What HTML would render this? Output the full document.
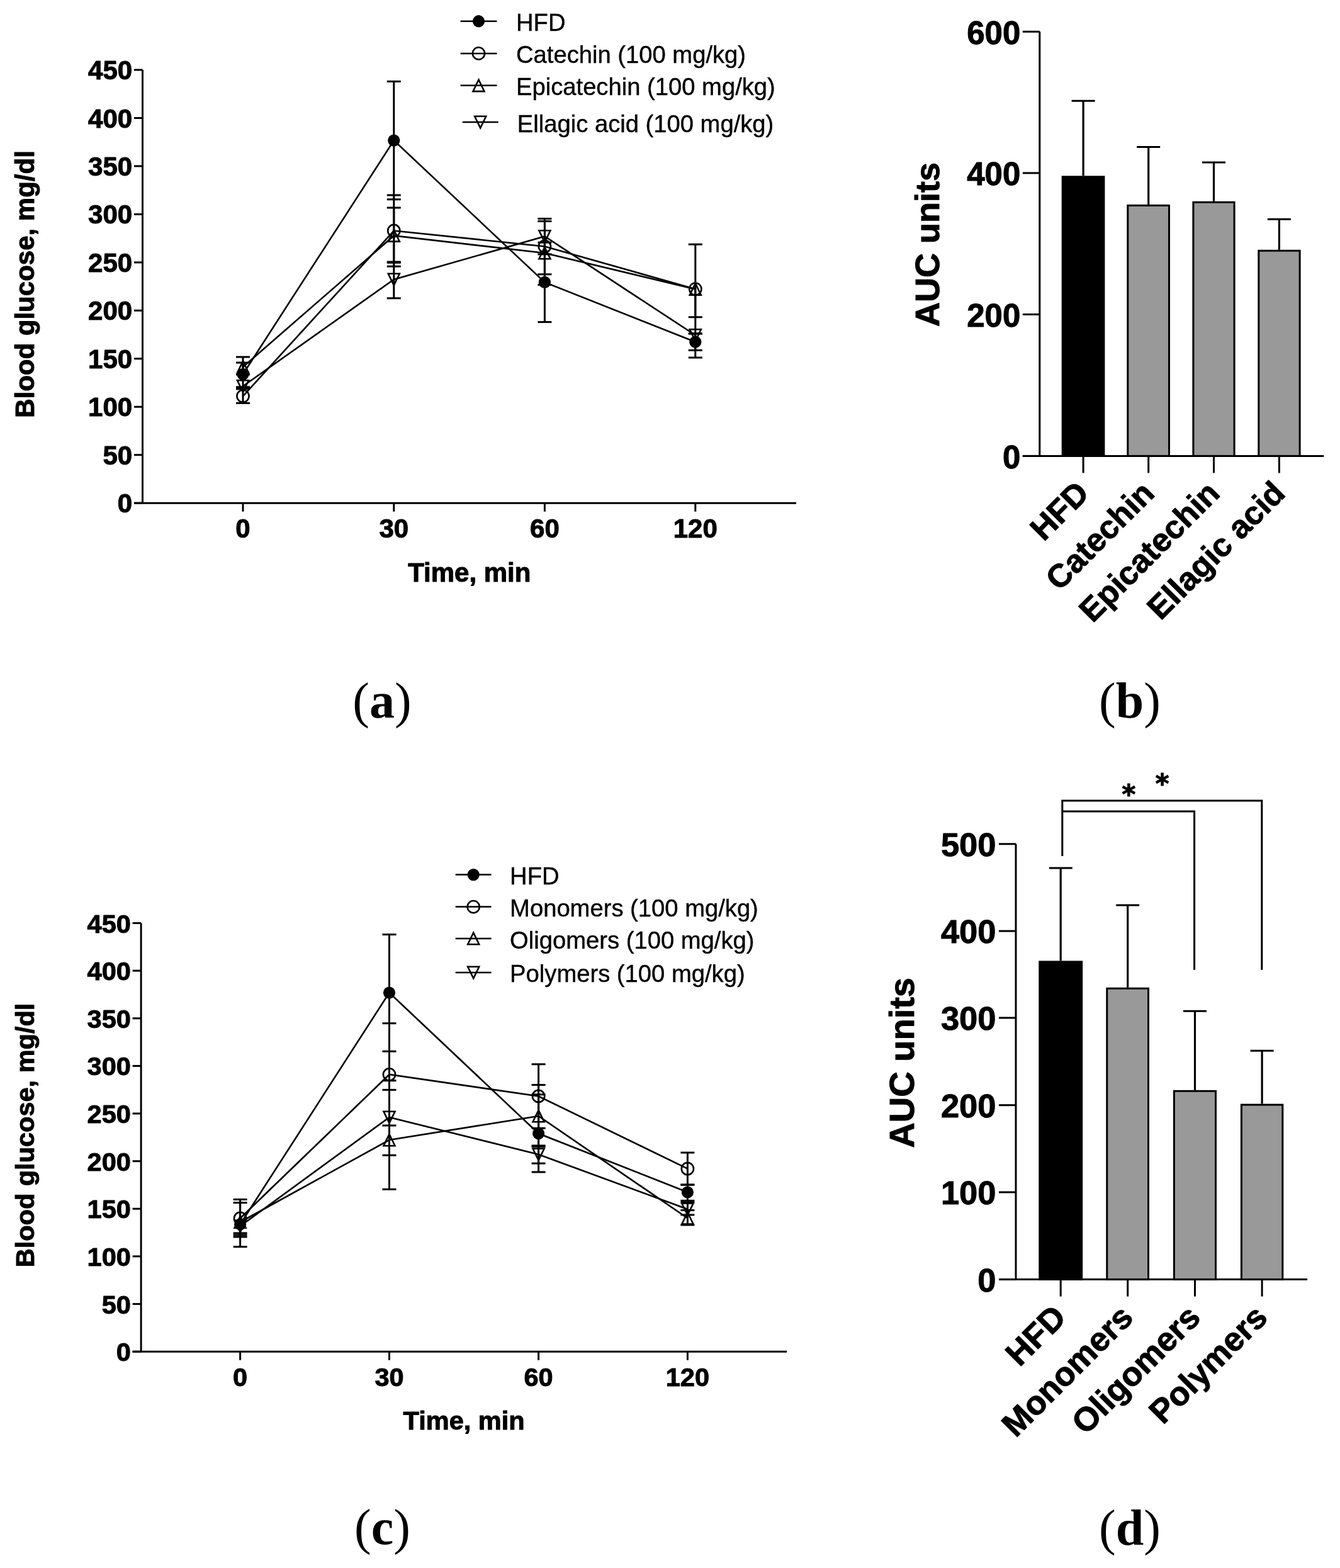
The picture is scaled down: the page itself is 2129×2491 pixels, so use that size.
<!DOCTYPE html>
<html><head><meta charset="utf-8"><title>Figure</title>
<style>html,body{margin:0;padding:0;background:#fff;}svg{display:block;}</style>
</head><body>
<svg width="2129" height="2491" viewBox="0 0 2129 2491">
<rect x="0" y="0" width="2129" height="2491" fill="#fff"/>
<g stroke="#000" fill="none">
<line x1="226.5" y1="111" x2="226.5" y2="799.2" stroke-width="3" stroke-linecap="butt"/>
<line x1="213" y1="799.2" x2="226.5" y2="799.2" stroke-width="3" stroke-linecap="butt"/>
<text x="210.2" y="814.2" font-size="42" font-weight="bold" text-anchor="end" font-family="'Liberation Sans', Arial, Helvetica, sans-serif" stroke="#000" stroke-width="1.0" stroke-linejoin="round" fill="#000">0</text>
<line x1="213" y1="722.7" x2="226.5" y2="722.7" stroke-width="3" stroke-linecap="butt"/>
<text x="210.2" y="737.7" font-size="42" font-weight="bold" text-anchor="end" font-family="'Liberation Sans', Arial, Helvetica, sans-serif" stroke="#000" stroke-width="1.0" stroke-linejoin="round" fill="#000">50</text>
<line x1="213" y1="646.3" x2="226.5" y2="646.3" stroke-width="3" stroke-linecap="butt"/>
<text x="210.2" y="661.3" font-size="42" font-weight="bold" text-anchor="end" font-family="'Liberation Sans', Arial, Helvetica, sans-serif" stroke="#000" stroke-width="1.0" stroke-linejoin="round" fill="#000">100</text>
<line x1="213" y1="569.8" x2="226.5" y2="569.8" stroke-width="3" stroke-linecap="butt"/>
<text x="210.2" y="584.8" font-size="42" font-weight="bold" text-anchor="end" font-family="'Liberation Sans', Arial, Helvetica, sans-serif" stroke="#000" stroke-width="1.0" stroke-linejoin="round" fill="#000">150</text>
<line x1="213" y1="493.3" x2="226.5" y2="493.3" stroke-width="3" stroke-linecap="butt"/>
<text x="210.2" y="508.3" font-size="42" font-weight="bold" text-anchor="end" font-family="'Liberation Sans', Arial, Helvetica, sans-serif" stroke="#000" stroke-width="1.0" stroke-linejoin="round" fill="#000">200</text>
<line x1="213" y1="416.9" x2="226.5" y2="416.9" stroke-width="3" stroke-linecap="butt"/>
<text x="210.2" y="431.9" font-size="42" font-weight="bold" text-anchor="end" font-family="'Liberation Sans', Arial, Helvetica, sans-serif" stroke="#000" stroke-width="1.0" stroke-linejoin="round" fill="#000">250</text>
<line x1="213" y1="340.4" x2="226.5" y2="340.4" stroke-width="3" stroke-linecap="butt"/>
<text x="210.2" y="355.4" font-size="42" font-weight="bold" text-anchor="end" font-family="'Liberation Sans', Arial, Helvetica, sans-serif" stroke="#000" stroke-width="1.0" stroke-linejoin="round" fill="#000">300</text>
<line x1="213" y1="263.9" x2="226.5" y2="263.9" stroke-width="3" stroke-linecap="butt"/>
<text x="210.2" y="278.9" font-size="42" font-weight="bold" text-anchor="end" font-family="'Liberation Sans', Arial, Helvetica, sans-serif" stroke="#000" stroke-width="1.0" stroke-linejoin="round" fill="#000">350</text>
<line x1="213" y1="187.5" x2="226.5" y2="187.5" stroke-width="3" stroke-linecap="butt"/>
<text x="210.2" y="202.5" font-size="42" font-weight="bold" text-anchor="end" font-family="'Liberation Sans', Arial, Helvetica, sans-serif" stroke="#000" stroke-width="1.0" stroke-linejoin="round" fill="#000">400</text>
<line x1="213" y1="111" x2="226.5" y2="111" stroke-width="3" stroke-linecap="butt"/>
<text x="210.2" y="126" font-size="42" font-weight="bold" text-anchor="end" font-family="'Liberation Sans', Arial, Helvetica, sans-serif" stroke="#000" stroke-width="1.0" stroke-linejoin="round" fill="#000">450</text>
<line x1="213" y1="799.2" x2="1265" y2="799.2" stroke-width="3" stroke-linecap="butt"/>
<line x1="386" y1="799.2" x2="386" y2="812.7" stroke-width="3" stroke-linecap="butt"/>
<text x="386" y="854.2" font-size="42" font-weight="bold" text-anchor="middle" font-family="'Liberation Sans', Arial, Helvetica, sans-serif" stroke="#000" stroke-width="1.0" stroke-linejoin="round" fill="#000">0</text>
<line x1="625.8" y1="799.2" x2="625.8" y2="812.7" stroke-width="3" stroke-linecap="butt"/>
<text x="625.8" y="854.2" font-size="42" font-weight="bold" text-anchor="middle" font-family="'Liberation Sans', Arial, Helvetica, sans-serif" stroke="#000" stroke-width="1.0" stroke-linejoin="round" fill="#000">30</text>
<line x1="865.4" y1="799.2" x2="865.4" y2="812.7" stroke-width="3" stroke-linecap="butt"/>
<text x="865.4" y="854.2" font-size="42" font-weight="bold" text-anchor="middle" font-family="'Liberation Sans', Arial, Helvetica, sans-serif" stroke="#000" stroke-width="1.0" stroke-linejoin="round" fill="#000">60</text>
<line x1="1104.8" y1="799.2" x2="1104.8" y2="812.7" stroke-width="3" stroke-linecap="butt"/>
<text x="1104.8" y="854.2" font-size="42" font-weight="bold" text-anchor="middle" font-family="'Liberation Sans', Arial, Helvetica, sans-serif" stroke="#000" stroke-width="1.0" stroke-linejoin="round" fill="#000">120</text>
<text x="745.8" y="923.5" font-size="42" font-weight="bold" text-anchor="middle" font-family="'Liberation Sans', Arial, Helvetica, sans-serif" stroke="#000" stroke-width="1.0" stroke-linejoin="round" fill="#000">Time, min</text>
<text x="54" y="451.5" font-size="42" font-weight="bold" text-anchor="middle" font-family="'Liberation Sans', Arial, Helvetica, sans-serif" transform="rotate(-90 54 451.5)" stroke="#000" stroke-width="1.0" stroke-linejoin="round" fill="#000">Blood glucose, mg/dl</text>
<line x1="386" y1="576.1" x2="386" y2="614.8" stroke-width="3" stroke-linecap="butt"/>
<line x1="375" y1="576.1" x2="397" y2="576.1" stroke-width="3" stroke-linecap="butt"/>
<line x1="375" y1="614.8" x2="397" y2="614.8" stroke-width="3" stroke-linecap="butt"/>
<line x1="625.8" y1="129.4" x2="625.8" y2="316.8" stroke-width="3" stroke-linecap="butt"/>
<line x1="614.8" y1="129.4" x2="636.8" y2="129.4" stroke-width="3" stroke-linecap="butt"/>
<line x1="614.8" y1="316.8" x2="636.8" y2="316.8" stroke-width="3" stroke-linecap="butt"/>
<line x1="865.4" y1="385.2" x2="865.4" y2="511.6" stroke-width="3" stroke-linecap="butt"/>
<line x1="854.4" y1="385.2" x2="876.4" y2="385.2" stroke-width="3" stroke-linecap="butt"/>
<line x1="854.4" y1="511.6" x2="876.4" y2="511.6" stroke-width="3" stroke-linecap="butt"/>
<line x1="1104.8" y1="530" x2="1104.8" y2="556.5" stroke-width="3" stroke-linecap="butt"/>
<line x1="1093.8" y1="530" x2="1115.8" y2="530" stroke-width="3" stroke-linecap="butt"/>
<line x1="1093.8" y1="556.5" x2="1115.8" y2="556.5" stroke-width="3" stroke-linecap="butt"/>
<line x1="386" y1="618" x2="386" y2="640.4" stroke-width="3" stroke-linecap="butt"/>
<line x1="375" y1="618" x2="397" y2="618" stroke-width="3" stroke-linecap="butt"/>
<line x1="375" y1="640.4" x2="397" y2="640.4" stroke-width="3" stroke-linecap="butt"/>
<line x1="625.8" y1="310" x2="625.8" y2="423.2" stroke-width="3" stroke-linecap="butt"/>
<line x1="614.8" y1="310" x2="636.8" y2="310" stroke-width="3" stroke-linecap="butt"/>
<line x1="614.8" y1="423.2" x2="636.8" y2="423.2" stroke-width="3" stroke-linecap="butt"/>
<line x1="865.4" y1="347.4" x2="865.4" y2="435.8" stroke-width="3" stroke-linecap="butt"/>
<line x1="854.4" y1="347.4" x2="876.4" y2="347.4" stroke-width="3" stroke-linecap="butt"/>
<line x1="854.4" y1="435.8" x2="876.4" y2="435.8" stroke-width="3" stroke-linecap="butt"/>
<line x1="1104.8" y1="388.2" x2="1104.8" y2="530" stroke-width="3" stroke-linecap="butt"/>
<line x1="1093.8" y1="388.2" x2="1115.8" y2="388.2" stroke-width="3" stroke-linecap="butt"/>
<line x1="1093.8" y1="530" x2="1115.8" y2="530" stroke-width="3" stroke-linecap="butt"/>
<line x1="386" y1="567.1" x2="386" y2="595" stroke-width="3" stroke-linecap="butt"/>
<line x1="375" y1="567.1" x2="397" y2="567.1" stroke-width="3" stroke-linecap="butt"/>
<line x1="375" y1="595" x2="397" y2="595" stroke-width="3" stroke-linecap="butt"/>
<line x1="625.8" y1="330" x2="625.8" y2="417.3" stroke-width="3" stroke-linecap="butt"/>
<line x1="614.8" y1="330" x2="636.8" y2="330" stroke-width="3" stroke-linecap="butt"/>
<line x1="614.8" y1="417.3" x2="636.8" y2="417.3" stroke-width="3" stroke-linecap="butt"/>
<line x1="865.4" y1="351.5" x2="865.4" y2="452.5" stroke-width="3" stroke-linecap="butt"/>
<line x1="854.4" y1="351.5" x2="876.4" y2="351.5" stroke-width="3" stroke-linecap="butt"/>
<line x1="854.4" y1="452.5" x2="876.4" y2="452.5" stroke-width="3" stroke-linecap="butt"/>
<line x1="1104.8" y1="459.5" x2="1104.8" y2="503.8" stroke-width="3" stroke-linecap="butt"/>
<line x1="1093.8" y1="503.8" x2="1115.8" y2="503.8" stroke-width="3" stroke-linecap="butt"/>
<line x1="386" y1="613.5" x2="386" y2="616" stroke-width="3" stroke-linecap="butt"/>
<line x1="375" y1="616" x2="397" y2="616" stroke-width="3" stroke-linecap="butt"/>
<line x1="625.8" y1="416" x2="625.8" y2="473.8" stroke-width="3" stroke-linecap="butt"/>
<line x1="614.8" y1="416" x2="636.8" y2="416" stroke-width="3" stroke-linecap="butt"/>
<line x1="614.8" y1="473.8" x2="636.8" y2="473.8" stroke-width="3" stroke-linecap="butt"/>
<line x1="865.4" y1="375.5" x2="865.4" y2="403.9" stroke-width="3" stroke-linecap="butt"/>
<line x1="854.4" y1="403.9" x2="876.4" y2="403.9" stroke-width="3" stroke-linecap="butt"/>
<line x1="1104.8" y1="532.5" x2="1104.8" y2="568.1" stroke-width="3" stroke-linecap="butt"/>
<line x1="1093.8" y1="568.1" x2="1115.8" y2="568.1" stroke-width="3" stroke-linecap="butt"/>
<polyline points="386,594.5 625.8,223.1 865.4,448.4 1104.8,543.3" fill="none" stroke-width="2.6" stroke-linejoin="miter"/>
<polyline points="386,629.3 625.8,366.5 865.4,391.5 1104.8,459.2" fill="none" stroke-width="2.6" stroke-linejoin="miter"/>
<polyline points="386,583 625.8,374.4 865.4,402 1104.8,459.5" fill="none" stroke-width="2.6" stroke-linejoin="miter"/>
<polyline points="386,613.5 625.8,444 865.4,375.5 1104.8,532.5" fill="none" stroke-width="2.6" stroke-linejoin="miter"/>
<circle cx="386" cy="594.5" r="9.6" fill="#000" stroke="none"/>
<circle cx="625.8" cy="223.1" r="9.6" fill="#000" stroke="none"/>
<circle cx="865.4" cy="448.4" r="9.6" fill="#000" stroke="none"/>
<circle cx="1104.8" cy="543.3" r="9.6" fill="#000" stroke="none"/>
<circle cx="386" cy="629.3" r="9.6" fill="none" stroke-width="2.6"/>
<circle cx="625.8" cy="366.5" r="9.6" fill="none" stroke-width="2.6"/>
<circle cx="865.4" cy="391.5" r="9.6" fill="none" stroke-width="2.6"/>
<circle cx="1104.8" cy="459.2" r="9.6" fill="none" stroke-width="2.6"/>
<polygon points="386,573.8 395,592.2 377,592.2" fill="none" stroke-width="2.6" stroke-linejoin="miter"/>
<polygon points="625.8,365.1 634.8,383.6 616.8,383.6" fill="none" stroke-width="2.6" stroke-linejoin="miter"/>
<polygon points="865.4,392.8 874.4,411.2 856.4,411.2" fill="none" stroke-width="2.6" stroke-linejoin="miter"/>
<polygon points="1104.8,450.2 1113.8,468.8 1095.8,468.8" fill="none" stroke-width="2.6" stroke-linejoin="miter"/>
<polygon points="377,604.2 395,604.2 386,622.8" fill="none" stroke-width="2.6" stroke-linejoin="miter"/>
<polygon points="616.8,434.8 634.8,434.8 625.8,453.2" fill="none" stroke-width="2.6" stroke-linejoin="miter"/>
<polygon points="856.4,366.2 874.4,366.2 865.4,384.8" fill="none" stroke-width="2.6" stroke-linejoin="miter"/>
<polygon points="1095.8,523.2 1113.8,523.2 1104.8,541.8" fill="none" stroke-width="2.6" stroke-linejoin="miter"/>
<line x1="731.6" y1="33.7" x2="789.5" y2="33.7" stroke-width="2.5" stroke-linecap="butt"/>
<circle cx="760.5" cy="33.7" r="9.6" fill="#000" stroke="none"/>
<text x="820" y="49.2" font-size="38.2" font-weight="normal" text-anchor="start" font-family="'Liberation Sans', Arial, Helvetica, sans-serif" stroke="#000" stroke-width="0.4" stroke-linejoin="round" fill="#000">HFD</text>
<line x1="731.6" y1="84.9" x2="789.5" y2="84.9" stroke-width="2.5" stroke-linecap="butt"/>
<circle cx="760.5" cy="84.9" r="9.6" fill="none" stroke-width="2.6"/>
<text x="820" y="100.4" font-size="38.2" font-weight="normal" text-anchor="start" font-family="'Liberation Sans', Arial, Helvetica, sans-serif" stroke="#000" stroke-width="0.4" stroke-linejoin="round" fill="#000">Catechin (100 mg/kg)</text>
<line x1="731.6" y1="135.8" x2="789.5" y2="135.8" stroke-width="2.5" stroke-linecap="butt"/>
<polygon points="760.5,126.6 769.5,145.1 751.5,145.1" fill="none" stroke-width="2.6" stroke-linejoin="miter"/>
<text x="820" y="151.3" font-size="38.2" font-weight="normal" text-anchor="start" font-family="'Liberation Sans', Arial, Helvetica, sans-serif" stroke="#000" stroke-width="0.4" stroke-linejoin="round" fill="#000">Epicatechin (100 mg/kg)</text>
<line x1="734.8" y1="194" x2="791.7" y2="194" stroke-width="2.5" stroke-linecap="butt"/>
<polygon points="754.2,184.8 772.2,184.8 763.2,203.2" fill="none" stroke-width="2.6" stroke-linejoin="miter"/>
<text x="821.8" y="209.5" font-size="38.2" font-weight="normal" text-anchor="start" font-family="'Liberation Sans', Arial, Helvetica, sans-serif" stroke="#000" stroke-width="0.4" stroke-linejoin="round" fill="#000">Ellagic acid (100 mg/kg)</text>
<line x1="224.1" y1="1466.5" x2="224.1" y2="2147.2" stroke-width="3" stroke-linecap="butt"/>
<line x1="210.6" y1="2147.2" x2="224.1" y2="2147.2" stroke-width="3" stroke-linecap="butt"/>
<text x="207.8" y="2162.2" font-size="41.5" font-weight="bold" text-anchor="end" font-family="'Liberation Sans', Arial, Helvetica, sans-serif" stroke="#000" stroke-width="1.0" stroke-linejoin="round" fill="#000">0</text>
<line x1="210.6" y1="2071.6" x2="224.1" y2="2071.6" stroke-width="3" stroke-linecap="butt"/>
<text x="207.8" y="2086.6" font-size="41.5" font-weight="bold" text-anchor="end" font-family="'Liberation Sans', Arial, Helvetica, sans-serif" stroke="#000" stroke-width="1.0" stroke-linejoin="round" fill="#000">50</text>
<line x1="210.6" y1="1995.9" x2="224.1" y2="1995.9" stroke-width="3" stroke-linecap="butt"/>
<text x="207.8" y="2010.9" font-size="41.5" font-weight="bold" text-anchor="end" font-family="'Liberation Sans', Arial, Helvetica, sans-serif" stroke="#000" stroke-width="1.0" stroke-linejoin="round" fill="#000">100</text>
<line x1="210.6" y1="1920.3" x2="224.1" y2="1920.3" stroke-width="3" stroke-linecap="butt"/>
<text x="207.8" y="1935.3" font-size="41.5" font-weight="bold" text-anchor="end" font-family="'Liberation Sans', Arial, Helvetica, sans-serif" stroke="#000" stroke-width="1.0" stroke-linejoin="round" fill="#000">150</text>
<line x1="210.6" y1="1844.7" x2="224.1" y2="1844.7" stroke-width="3" stroke-linecap="butt"/>
<text x="207.8" y="1859.7" font-size="41.5" font-weight="bold" text-anchor="end" font-family="'Liberation Sans', Arial, Helvetica, sans-serif" stroke="#000" stroke-width="1.0" stroke-linejoin="round" fill="#000">200</text>
<line x1="210.6" y1="1769" x2="224.1" y2="1769" stroke-width="3" stroke-linecap="butt"/>
<text x="207.8" y="1784" font-size="41.5" font-weight="bold" text-anchor="end" font-family="'Liberation Sans', Arial, Helvetica, sans-serif" stroke="#000" stroke-width="1.0" stroke-linejoin="round" fill="#000">250</text>
<line x1="210.6" y1="1693.4" x2="224.1" y2="1693.4" stroke-width="3" stroke-linecap="butt"/>
<text x="207.8" y="1708.4" font-size="41.5" font-weight="bold" text-anchor="end" font-family="'Liberation Sans', Arial, Helvetica, sans-serif" stroke="#000" stroke-width="1.0" stroke-linejoin="round" fill="#000">300</text>
<line x1="210.6" y1="1617.8" x2="224.1" y2="1617.8" stroke-width="3" stroke-linecap="butt"/>
<text x="207.8" y="1632.8" font-size="41.5" font-weight="bold" text-anchor="end" font-family="'Liberation Sans', Arial, Helvetica, sans-serif" stroke="#000" stroke-width="1.0" stroke-linejoin="round" fill="#000">350</text>
<line x1="210.6" y1="1542.1" x2="224.1" y2="1542.1" stroke-width="3" stroke-linecap="butt"/>
<text x="207.8" y="1557.1" font-size="41.5" font-weight="bold" text-anchor="end" font-family="'Liberation Sans', Arial, Helvetica, sans-serif" stroke="#000" stroke-width="1.0" stroke-linejoin="round" fill="#000">400</text>
<line x1="210.6" y1="1466.5" x2="224.1" y2="1466.5" stroke-width="3" stroke-linecap="butt"/>
<text x="207.8" y="1481.5" font-size="41.5" font-weight="bold" text-anchor="end" font-family="'Liberation Sans', Arial, Helvetica, sans-serif" stroke="#000" stroke-width="1.0" stroke-linejoin="round" fill="#000">450</text>
<line x1="210.6" y1="2147.2" x2="1250.2" y2="2147.2" stroke-width="3" stroke-linecap="butt"/>
<line x1="381.6" y1="2147.2" x2="381.6" y2="2160.7" stroke-width="3" stroke-linecap="butt"/>
<text x="381.6" y="2202.2" font-size="41.5" font-weight="bold" text-anchor="middle" font-family="'Liberation Sans', Arial, Helvetica, sans-serif" stroke="#000" stroke-width="1.0" stroke-linejoin="round" fill="#000">0</text>
<line x1="618.5" y1="2147.2" x2="618.5" y2="2160.7" stroke-width="3" stroke-linecap="butt"/>
<text x="618.5" y="2202.2" font-size="41.5" font-weight="bold" text-anchor="middle" font-family="'Liberation Sans', Arial, Helvetica, sans-serif" stroke="#000" stroke-width="1.0" stroke-linejoin="round" fill="#000">30</text>
<line x1="855.6" y1="2147.2" x2="855.6" y2="2160.7" stroke-width="3" stroke-linecap="butt"/>
<text x="855.6" y="2202.2" font-size="41.5" font-weight="bold" text-anchor="middle" font-family="'Liberation Sans', Arial, Helvetica, sans-serif" stroke="#000" stroke-width="1.0" stroke-linejoin="round" fill="#000">60</text>
<line x1="1092.4" y1="2147.2" x2="1092.4" y2="2160.7" stroke-width="3" stroke-linecap="butt"/>
<text x="1092.4" y="2202.2" font-size="41.5" font-weight="bold" text-anchor="middle" font-family="'Liberation Sans', Arial, Helvetica, sans-serif" stroke="#000" stroke-width="1.0" stroke-linejoin="round" fill="#000">120</text>
<text x="737.1" y="2271.2" font-size="41.5" font-weight="bold" text-anchor="middle" font-family="'Liberation Sans', Arial, Helvetica, sans-serif" stroke="#000" stroke-width="1.0" stroke-linejoin="round" fill="#000">Time, min</text>
<text x="54" y="1803.5" font-size="41.5" font-weight="bold" text-anchor="middle" font-family="'Liberation Sans', Arial, Helvetica, sans-serif" transform="rotate(-90 54 1803.5)" stroke="#000" stroke-width="1.0" stroke-linejoin="round" fill="#000">Blood glucose, mg/dl</text>
<line x1="381.6" y1="1910.7" x2="381.6" y2="1959" stroke-width="3" stroke-linecap="butt"/>
<line x1="370.6" y1="1910.7" x2="392.6" y2="1910.7" stroke-width="3" stroke-linecap="butt"/>
<line x1="370.6" y1="1959" x2="392.6" y2="1959" stroke-width="3" stroke-linecap="butt"/>
<line x1="618.5" y1="1484.6" x2="618.5" y2="1670.2" stroke-width="3" stroke-linecap="butt"/>
<line x1="607.5" y1="1484.6" x2="629.5" y2="1484.6" stroke-width="3" stroke-linecap="butt"/>
<line x1="607.5" y1="1670.2" x2="629.5" y2="1670.2" stroke-width="3" stroke-linecap="butt"/>
<line x1="855.6" y1="1738.8" x2="855.6" y2="1862" stroke-width="3" stroke-linecap="butt"/>
<line x1="844.6" y1="1738.8" x2="866.6" y2="1738.8" stroke-width="3" stroke-linecap="butt"/>
<line x1="844.6" y1="1862" x2="866.6" y2="1862" stroke-width="3" stroke-linecap="butt"/>
<line x1="1092.4" y1="1882" x2="1092.4" y2="1907.4" stroke-width="3" stroke-linecap="butt"/>
<line x1="1081.4" y1="1882" x2="1103.4" y2="1882" stroke-width="3" stroke-linecap="butt"/>
<line x1="1081.4" y1="1907.4" x2="1103.4" y2="1907.4" stroke-width="3" stroke-linecap="butt"/>
<line x1="381.6" y1="1905.5" x2="381.6" y2="1965" stroke-width="3" stroke-linecap="butt"/>
<line x1="370.6" y1="1905.5" x2="392.6" y2="1905.5" stroke-width="3" stroke-linecap="butt"/>
<line x1="370.6" y1="1965" x2="392.6" y2="1965" stroke-width="3" stroke-linecap="butt"/>
<line x1="618.5" y1="1625.7" x2="618.5" y2="1788" stroke-width="3" stroke-linecap="butt"/>
<line x1="607.5" y1="1625.7" x2="629.5" y2="1625.7" stroke-width="3" stroke-linecap="butt"/>
<line x1="607.5" y1="1788" x2="629.5" y2="1788" stroke-width="3" stroke-linecap="butt"/>
<line x1="855.6" y1="1690.7" x2="855.6" y2="1792.3" stroke-width="3" stroke-linecap="butt"/>
<line x1="844.6" y1="1690.7" x2="866.6" y2="1690.7" stroke-width="3" stroke-linecap="butt"/>
<line x1="844.6" y1="1792.3" x2="866.6" y2="1792.3" stroke-width="3" stroke-linecap="butt"/>
<line x1="1092.4" y1="1831.1" x2="1092.4" y2="1882.3" stroke-width="3" stroke-linecap="butt"/>
<line x1="1081.4" y1="1831.1" x2="1103.4" y2="1831.1" stroke-width="3" stroke-linecap="butt"/>
<line x1="1081.4" y1="1882.3" x2="1103.4" y2="1882.3" stroke-width="3" stroke-linecap="butt"/>
<line x1="381.6" y1="1941.5" x2="381.6" y2="1980.7" stroke-width="3" stroke-linecap="butt"/>
<line x1="370.6" y1="1980.7" x2="392.6" y2="1980.7" stroke-width="3" stroke-linecap="butt"/>
<line x1="618.5" y1="1731.4" x2="618.5" y2="1889.4" stroke-width="3" stroke-linecap="butt"/>
<line x1="607.5" y1="1731.4" x2="629.5" y2="1731.4" stroke-width="3" stroke-linecap="butt"/>
<line x1="607.5" y1="1889.4" x2="629.5" y2="1889.4" stroke-width="3" stroke-linecap="butt"/>
<line x1="855.6" y1="1723.5" x2="855.6" y2="1821.7" stroke-width="3" stroke-linecap="butt"/>
<line x1="844.6" y1="1723.5" x2="866.6" y2="1723.5" stroke-width="3" stroke-linecap="butt"/>
<line x1="844.6" y1="1821.7" x2="866.6" y2="1821.7" stroke-width="3" stroke-linecap="butt"/>
<line x1="1092.4" y1="1922.6" x2="1092.4" y2="1946" stroke-width="3" stroke-linecap="butt"/>
<line x1="1081.4" y1="1922.6" x2="1103.4" y2="1922.6" stroke-width="3" stroke-linecap="butt"/>
<line x1="1081.4" y1="1946" x2="1103.4" y2="1946" stroke-width="3" stroke-linecap="butt"/>
<line x1="381.6" y1="1948" x2="381.6" y2="1962" stroke-width="3" stroke-linecap="butt"/>
<line x1="370.6" y1="1962" x2="392.6" y2="1962" stroke-width="3" stroke-linecap="butt"/>
<line x1="618.5" y1="1716.7" x2="618.5" y2="1835.3" stroke-width="3" stroke-linecap="butt"/>
<line x1="607.5" y1="1716.7" x2="629.5" y2="1716.7" stroke-width="3" stroke-linecap="butt"/>
<line x1="607.5" y1="1835.3" x2="629.5" y2="1835.3" stroke-width="3" stroke-linecap="butt"/>
<line x1="855.6" y1="1820" x2="855.6" y2="1848.2" stroke-width="3" stroke-linecap="butt"/>
<line x1="844.6" y1="1820" x2="866.6" y2="1820" stroke-width="3" stroke-linecap="butt"/>
<line x1="844.6" y1="1848.2" x2="866.6" y2="1848.2" stroke-width="3" stroke-linecap="butt"/>
<line x1="1092.4" y1="1910" x2="1092.4" y2="1930" stroke-width="3" stroke-linecap="butt"/>
<line x1="1081.4" y1="1910" x2="1103.4" y2="1910" stroke-width="3" stroke-linecap="butt"/>
<line x1="1081.4" y1="1930" x2="1103.4" y2="1930" stroke-width="3" stroke-linecap="butt"/>
<polyline points="381.6,1945 618.5,1577.1 855.6,1800.8 1092.4,1894" fill="none" stroke-width="2.6" stroke-linejoin="miter"/>
<polyline points="381.6,1935.5 618.5,1707 855.6,1741.5 1092.4,1856.7" fill="none" stroke-width="2.6" stroke-linejoin="miter"/>
<polyline points="381.6,1941.5 618.5,1811 855.6,1773 1092.4,1935.3" fill="none" stroke-width="2.6" stroke-linejoin="miter"/>
<polyline points="381.6,1948 618.5,1775 855.6,1834 1092.4,1921" fill="none" stroke-width="2.6" stroke-linejoin="miter"/>
<circle cx="381.6" cy="1945" r="9.6" fill="#000" stroke="none"/>
<circle cx="618.5" cy="1577.1" r="9.6" fill="#000" stroke="none"/>
<circle cx="855.6" cy="1800.8" r="9.6" fill="#000" stroke="none"/>
<circle cx="1092.4" cy="1894" r="9.6" fill="#000" stroke="none"/>
<circle cx="381.6" cy="1935.5" r="9.6" fill="none" stroke-width="2.6"/>
<circle cx="618.5" cy="1707" r="9.6" fill="none" stroke-width="2.6"/>
<circle cx="855.6" cy="1741.5" r="9.6" fill="none" stroke-width="2.6"/>
<circle cx="1092.4" cy="1856.7" r="9.6" fill="none" stroke-width="2.6"/>
<polygon points="381.6,1932.2 390.6,1950.8 372.6,1950.8" fill="none" stroke-width="2.6" stroke-linejoin="miter"/>
<polygon points="618.5,1801.8 627.5,1820.2 609.5,1820.2" fill="none" stroke-width="2.6" stroke-linejoin="miter"/>
<polygon points="855.6,1763.8 864.6,1782.2 846.6,1782.2" fill="none" stroke-width="2.6" stroke-linejoin="miter"/>
<polygon points="1092.4,1926 1101.4,1944.5 1083.4,1944.5" fill="none" stroke-width="2.6" stroke-linejoin="miter"/>
<polygon points="372.6,1938.8 390.6,1938.8 381.6,1957.2" fill="none" stroke-width="2.6" stroke-linejoin="miter"/>
<polygon points="609.5,1765.8 627.5,1765.8 618.5,1784.2" fill="none" stroke-width="2.6" stroke-linejoin="miter"/>
<polygon points="846.6,1824.8 864.6,1824.8 855.6,1843.2" fill="none" stroke-width="2.6" stroke-linejoin="miter"/>
<polygon points="1083.4,1911.8 1101.4,1911.8 1092.4,1930.2" fill="none" stroke-width="2.6" stroke-linejoin="miter"/>
<line x1="723.7" y1="1389.6" x2="780.6" y2="1389.6" stroke-width="2.5" stroke-linecap="butt"/>
<circle cx="752.2" cy="1389.6" r="9.6" fill="#000" stroke="none"/>
<text x="810.1" y="1405.1" font-size="38.2" font-weight="normal" text-anchor="start" font-family="'Liberation Sans', Arial, Helvetica, sans-serif" stroke="#000" stroke-width="0.4" stroke-linejoin="round" fill="#000">HFD</text>
<line x1="723.7" y1="1440.6" x2="780.6" y2="1440.6" stroke-width="2.5" stroke-linecap="butt"/>
<circle cx="752.2" cy="1440.6" r="9.6" fill="none" stroke-width="2.6"/>
<text x="810.1" y="1456.1" font-size="38.2" font-weight="normal" text-anchor="start" font-family="'Liberation Sans', Arial, Helvetica, sans-serif" stroke="#000" stroke-width="0.4" stroke-linejoin="round" fill="#000">Monomers (100 mg/kg)</text>
<line x1="723.7" y1="1491.1" x2="780.6" y2="1491.1" stroke-width="2.5" stroke-linecap="butt"/>
<polygon points="752.2,1481.8 761.2,1500.3 743.2,1500.3" fill="none" stroke-width="2.6" stroke-linejoin="miter"/>
<text x="810.1" y="1506.6" font-size="38.2" font-weight="normal" text-anchor="start" font-family="'Liberation Sans', Arial, Helvetica, sans-serif" stroke="#000" stroke-width="0.4" stroke-linejoin="round" fill="#000">Oligomers (100 mg/kg)</text>
<line x1="723.7" y1="1544.9" x2="780.6" y2="1544.9" stroke-width="2.5" stroke-linecap="butt"/>
<polygon points="743.2,1535.7 761.2,1535.7 752.2,1554.2" fill="none" stroke-width="2.6" stroke-linejoin="miter"/>
<text x="810.1" y="1560.4" font-size="38.2" font-weight="normal" text-anchor="start" font-family="'Liberation Sans', Arial, Helvetica, sans-serif" stroke="#000" stroke-width="0.4" stroke-linejoin="round" fill="#000">Polymers (100 mg/kg)</text>
<line x1="1651.8" y1="50.3" x2="1651.8" y2="724.4" stroke-width="3" stroke-linecap="butt"/>
<line x1="1624.8" y1="724.4" x2="1651.8" y2="724.4" stroke-width="3" stroke-linecap="butt"/>
<text x="1621.3" y="743.9" font-size="51" font-weight="bold" text-anchor="end" font-family="'Liberation Sans', Arial, Helvetica, sans-serif" stroke="#000" stroke-width="1.0" stroke-linejoin="round" fill="#000">0</text>
<line x1="1624.8" y1="499.5" x2="1651.8" y2="499.5" stroke-width="3" stroke-linecap="butt"/>
<text x="1621.3" y="519" font-size="51" font-weight="bold" text-anchor="end" font-family="'Liberation Sans', Arial, Helvetica, sans-serif" stroke="#000" stroke-width="1.0" stroke-linejoin="round" fill="#000">200</text>
<line x1="1624.8" y1="274.9" x2="1651.8" y2="274.9" stroke-width="3" stroke-linecap="butt"/>
<text x="1621.3" y="294.4" font-size="51" font-weight="bold" text-anchor="end" font-family="'Liberation Sans', Arial, Helvetica, sans-serif" stroke="#000" stroke-width="1.0" stroke-linejoin="round" fill="#000">400</text>
<line x1="1624.8" y1="50.3" x2="1651.8" y2="50.3" stroke-width="3" stroke-linecap="butt"/>
<text x="1621.3" y="69.8" font-size="51" font-weight="bold" text-anchor="end" font-family="'Liberation Sans', Arial, Helvetica, sans-serif" stroke="#000" stroke-width="1.0" stroke-linejoin="round" fill="#000">600</text>
<line x1="1721.1" y1="160.3" x2="1721.1" y2="279.3" stroke-width="3.2" stroke-linecap="butt"/>
<line x1="1702.6" y1="160.3" x2="1739.6" y2="160.3" stroke-width="3" stroke-linecap="butt"/>
<rect x="1688.2" y="280.8" width="65.7" height="443.6" fill="#000" stroke-width="3"/>
<line x1="1824.7" y1="233.4" x2="1824.7" y2="324.9" stroke-width="3.2" stroke-linecap="butt"/>
<line x1="1806.2" y1="233.4" x2="1843.2" y2="233.4" stroke-width="3" stroke-linecap="butt"/>
<rect x="1791.8" y="326.4" width="65.7" height="398" fill="#999" stroke-width="3"/>
<line x1="1928.5" y1="258" x2="1928.5" y2="319.8" stroke-width="3.2" stroke-linecap="butt"/>
<line x1="1910" y1="258" x2="1947" y2="258" stroke-width="3" stroke-linecap="butt"/>
<rect x="1895.9" y="321.3" width="65.2" height="403.1" fill="#999" stroke-width="3"/>
<line x1="2032.4" y1="348.2" x2="2032.4" y2="396.8" stroke-width="3.2" stroke-linecap="butt"/>
<line x1="2013.9" y1="348.2" x2="2050.9" y2="348.2" stroke-width="3" stroke-linecap="butt"/>
<rect x="1999.8" y="398.3" width="65.3" height="326.1" fill="#999" stroke-width="3"/>
<line x1="1624.8" y1="724.4" x2="2103.3" y2="724.4" stroke-width="3" stroke-linecap="butt"/>
<line x1="1721.1" y1="724.4" x2="1721.1" y2="751.4" stroke-width="3" stroke-linecap="butt"/>
<text x="1733.1" y="786.4" font-size="51.5" font-weight="bold" text-anchor="end" font-family="'Liberation Sans', Arial, Helvetica, sans-serif" transform="rotate(-45 1733.1 786.4)" stroke="#000" stroke-width="1.0" stroke-linejoin="round" fill="#000">HFD</text>
<line x1="1824.7" y1="724.4" x2="1824.7" y2="751.4" stroke-width="3" stroke-linecap="butt"/>
<text x="1836.7" y="786.4" font-size="51.5" font-weight="bold" text-anchor="end" font-family="'Liberation Sans', Arial, Helvetica, sans-serif" transform="rotate(-45 1836.7 786.4)" stroke="#000" stroke-width="1.0" stroke-linejoin="round" fill="#000">Catechin</text>
<line x1="1928.5" y1="724.4" x2="1928.5" y2="751.4" stroke-width="3" stroke-linecap="butt"/>
<text x="1940.5" y="786.4" font-size="51.5" font-weight="bold" text-anchor="end" font-family="'Liberation Sans', Arial, Helvetica, sans-serif" transform="rotate(-45 1940.5 786.4)" stroke="#000" stroke-width="1.0" stroke-linejoin="round" fill="#000">Epicatechin</text>
<line x1="2032.4" y1="724.4" x2="2032.4" y2="751.4" stroke-width="3" stroke-linecap="butt"/>
<text x="2044.4" y="786.4" font-size="51.5" font-weight="bold" text-anchor="end" font-family="'Liberation Sans', Arial, Helvetica, sans-serif" transform="rotate(-45 2044.4 786.4)" stroke="#000" stroke-width="1.0" stroke-linejoin="round" fill="#000">Ellagic acid</text>
<text x="1492.5" y="388.4" font-size="54" font-weight="bold" text-anchor="middle" font-family="'Liberation Sans', Arial, Helvetica, sans-serif" transform="rotate(-90 1492.5 388.4)" stroke="#000" stroke-width="1.0" stroke-linejoin="round" fill="#000">AUC units</text>
<line x1="1614" y1="1340.8" x2="1614" y2="2032.6" stroke-width="3" stroke-linecap="butt"/>
<line x1="1587" y1="2032.6" x2="1614" y2="2032.6" stroke-width="3" stroke-linecap="butt"/>
<text x="1582.5" y="2051.6" font-size="52.5" font-weight="bold" text-anchor="end" font-family="'Liberation Sans', Arial, Helvetica, sans-serif" stroke="#000" stroke-width="1.0" stroke-linejoin="round" fill="#000">0</text>
<line x1="1587" y1="1894" x2="1614" y2="1894" stroke-width="3" stroke-linecap="butt"/>
<text x="1582.5" y="1913" font-size="52.5" font-weight="bold" text-anchor="end" font-family="'Liberation Sans', Arial, Helvetica, sans-serif" stroke="#000" stroke-width="1.0" stroke-linejoin="round" fill="#000">100</text>
<line x1="1587" y1="1755.7" x2="1614" y2="1755.7" stroke-width="3" stroke-linecap="butt"/>
<text x="1582.5" y="1774.7" font-size="52.5" font-weight="bold" text-anchor="end" font-family="'Liberation Sans', Arial, Helvetica, sans-serif" stroke="#000" stroke-width="1.0" stroke-linejoin="round" fill="#000">200</text>
<line x1="1587" y1="1617" x2="1614" y2="1617" stroke-width="3" stroke-linecap="butt"/>
<text x="1582.5" y="1636" font-size="52.5" font-weight="bold" text-anchor="end" font-family="'Liberation Sans', Arial, Helvetica, sans-serif" stroke="#000" stroke-width="1.0" stroke-linejoin="round" fill="#000">300</text>
<line x1="1587" y1="1479.1" x2="1614" y2="1479.1" stroke-width="3" stroke-linecap="butt"/>
<text x="1582.5" y="1498.1" font-size="52.5" font-weight="bold" text-anchor="end" font-family="'Liberation Sans', Arial, Helvetica, sans-serif" stroke="#000" stroke-width="1.0" stroke-linejoin="round" fill="#000">400</text>
<line x1="1587" y1="1340.8" x2="1614" y2="1340.8" stroke-width="3" stroke-linecap="butt"/>
<text x="1582.5" y="1359.8" font-size="52.5" font-weight="bold" text-anchor="end" font-family="'Liberation Sans', Arial, Helvetica, sans-serif" stroke="#000" stroke-width="1.0" stroke-linejoin="round" fill="#000">500</text>
<line x1="1685.2" y1="1379" x2="1685.2" y2="1526.4" stroke-width="3.2" stroke-linecap="butt"/>
<line x1="1666.8" y1="1379" x2="1703.8" y2="1379" stroke-width="3" stroke-linecap="butt"/>
<rect x="1651.8" y="1527.9" width="66.9" height="504.7" fill="#000" stroke-width="3"/>
<line x1="1791.7" y1="1437.9" x2="1791.7" y2="1568.8" stroke-width="3.2" stroke-linecap="butt"/>
<line x1="1773.2" y1="1437.9" x2="1810.2" y2="1437.9" stroke-width="3" stroke-linecap="butt"/>
<rect x="1758.8" y="1570.3" width="65.7" height="462.3" fill="#999" stroke-width="3"/>
<line x1="1898.5" y1="1606.3" x2="1898.5" y2="1731.8" stroke-width="3.2" stroke-linecap="butt"/>
<line x1="1880" y1="1606.3" x2="1917" y2="1606.3" stroke-width="3" stroke-linecap="butt"/>
<rect x="1865.4" y="1733.3" width="66.1" height="299.3" fill="#999" stroke-width="3"/>
<line x1="2005.1" y1="1669.3" x2="2005.1" y2="1753.6" stroke-width="3.2" stroke-linecap="butt"/>
<line x1="1986.6" y1="1669.3" x2="2023.6" y2="1669.3" stroke-width="3" stroke-linecap="butt"/>
<rect x="1972.4" y="1755.1" width="65.4" height="277.5" fill="#999" stroke-width="3"/>
<line x1="1587" y1="2032.6" x2="2077.1" y2="2032.6" stroke-width="3" stroke-linecap="butt"/>
<line x1="1685.2" y1="2032.6" x2="1685.2" y2="2059.6" stroke-width="3" stroke-linecap="butt"/>
<text x="1696.8" y="2095.8" font-size="53" font-weight="bold" text-anchor="end" font-family="'Liberation Sans', Arial, Helvetica, sans-serif" transform="rotate(-45 1696.8 2095.8)" stroke="#000" stroke-width="1.0" stroke-linejoin="round" fill="#000">HFD</text>
<line x1="1791.7" y1="2032.6" x2="1791.7" y2="2059.6" stroke-width="3" stroke-linecap="butt"/>
<text x="1803.2" y="2095.8" font-size="53" font-weight="bold" text-anchor="end" font-family="'Liberation Sans', Arial, Helvetica, sans-serif" transform="rotate(-45 1803.2 2095.8)" stroke="#000" stroke-width="1.0" stroke-linejoin="round" fill="#000">Monomers</text>
<line x1="1898.5" y1="2032.6" x2="1898.5" y2="2059.6" stroke-width="3" stroke-linecap="butt"/>
<text x="1910" y="2095.8" font-size="53" font-weight="bold" text-anchor="end" font-family="'Liberation Sans', Arial, Helvetica, sans-serif" transform="rotate(-45 1910 2095.8)" stroke="#000" stroke-width="1.0" stroke-linejoin="round" fill="#000">Oligomers</text>
<line x1="2005.1" y1="2032.6" x2="2005.1" y2="2059.6" stroke-width="3" stroke-linecap="butt"/>
<text x="2016.6" y="2095.8" font-size="53" font-weight="bold" text-anchor="end" font-family="'Liberation Sans', Arial, Helvetica, sans-serif" transform="rotate(-45 2016.6 2095.8)" stroke="#000" stroke-width="1.0" stroke-linejoin="round" fill="#000">Polymers</text>
<text x="1452.3" y="1688.3" font-size="56" font-weight="bold" text-anchor="middle" font-family="'Liberation Sans', Arial, Helvetica, sans-serif" transform="rotate(-90 1452.3 1688.3)" stroke="#000" stroke-width="1.0" stroke-linejoin="round" fill="#000">AUC units</text>
<polyline points="1687.8,1360 1687.8,1272.1 2004.8,1272.1 2004.8,1540.8" fill="none" stroke-width="3" stroke-linejoin="miter"/>
<polyline points="1687.8,1289 1897.6,1289 1897.6,1540.8" fill="none" stroke-width="3" stroke-linejoin="miter"/>
<text x="1793.3" y="1276.8" font-size="42" font-weight="bold" text-anchor="middle" font-family="'DejaVu Sans Mono', monospace" fill="#000" stroke="#000" stroke-width="1">*</text>
<text x="1846.6" y="1259.7" font-size="42" font-weight="bold" text-anchor="middle" font-family="'DejaVu Sans Mono', monospace" fill="#000" stroke="#000" stroke-width="1">*</text>
<text x="607" y="1140" font-size="80" text-anchor="middle" font-family="'Liberation Serif', 'Times New Roman', serif" stroke="none" fill="#000">(<tspan font-weight="bold">a</tspan>)</text>
<text x="1795" y="1140" font-size="80" text-anchor="middle" font-family="'Liberation Serif', 'Times New Roman', serif" stroke="none" fill="#000">(<tspan font-weight="bold">b</tspan>)</text>
<text x="607.5" y="2453.3" font-size="80" text-anchor="middle" font-family="'Liberation Serif', 'Times New Roman', serif" stroke="none" fill="#000">(<tspan font-weight="bold">c</tspan>)</text>
<text x="1795" y="2454" font-size="80" text-anchor="middle" font-family="'Liberation Serif', 'Times New Roman', serif" stroke="none" fill="#000">(<tspan font-weight="bold">d</tspan>)</text>
</g>
</svg>
</body></html>
